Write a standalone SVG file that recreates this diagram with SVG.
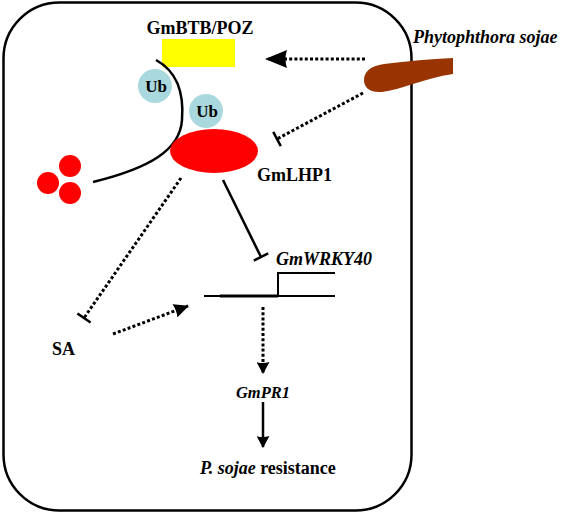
<svg xmlns="http://www.w3.org/2000/svg" width="564" height="517" viewBox="0 0 564 517">
<style>
text{font-family:"Liberation Serif","Times New Roman",serif;font-weight:bold;fill:#000}
.it{font-style:italic}
.dot{fill:none;stroke:#000;stroke-width:3;stroke-dasharray:3 2.2}
.sol{fill:none;stroke:#000;stroke-width:2.5}
.ub{fill:#a9d9de}
</style>
<defs>
<marker id="ahL" markerUnits="userSpaceOnUse" viewBox="0 0 22 18" refX="21" refY="9" markerWidth="22" markerHeight="18" orient="auto"><path d="M0,0 L22,9 L0,18 Q3,9 0,0 Z" fill="#000"/></marker>
<marker id="ahM" markerUnits="userSpaceOnUse" viewBox="0 0 15 14" refX="14" refY="7" markerWidth="15" markerHeight="14" orient="auto"><path d="M0,0 L15,7 L0,14 Q2,7 0,0 Z" fill="#000"/></marker>
<marker id="ahS" markerUnits="userSpaceOnUse" viewBox="0 0 12 13" refX="11" refY="6.5" markerWidth="12" markerHeight="13" orient="auto"><path d="M0,0 L12,6.5 L0,13 Q2,6.5 0,0 Z" fill="#000"/></marker>
<marker id="tee" markerUnits="userSpaceOnUse" viewBox="-2 -9 4 18" refX="0" refY="0" markerWidth="4" markerHeight="18" orient="auto"><line x1="0" y1="-8" x2="0" y2="8" stroke="#000" stroke-width="2.5"/></marker>
</defs>
<g id="cell"><rect x="3.5" y="2.5" width="408" height="508" rx="56" ry="56" fill="none" stroke="#000" stroke-width="2.5"/></g>
<g id="connectors">
<path class="dot" d="M365,59 L266,59" marker-end="url(#ahL)"/>
<path class="dot" d="M363,93 L277,139" marker-end="url(#tee)"/>
<path class="sol" d="M223,180 L261,257" marker-end="url(#tee)"/>
<path class="dot" d="M181,178 L84,318" marker-end="url(#tee)"/>
<path class="dot" d="M113,334 L188,306" marker-end="url(#ahM)"/>
<path class="dot" d="M263,307 L263,373" marker-end="url(#ahS)"/>
<path class="sol" d="M263,402 L263,447" marker-end="url(#ahS)"/>
</g>
<g id="btb"><rect x="162" y="39" width="73" height="28" fill="#ffff00"/><text x="200" y="34" font-size="18" text-anchor="middle">GmBTB/POZ</text></g>
<g id="pathogen"><path d="M453,58 L453,74 C425,78 400,90 382,92 C368,93 364,86 364,80 C364,72 370,66 384,64 C408,61 430,59 453,58 Z" fill="#993300"/><text class="it" x="413" y="43" font-size="18">Phytophthora sojae</text></g>
<g id="chain"><path class="sol" d="M156,60 C178,72 184,95 182,120 C180,150 150,168 93,182"/></g>
<g id="ub1"><circle class="ub" cx="155" cy="86" r="17"/><text x="156" y="92" font-size="17" text-anchor="middle">Ub</text></g>
<g id="ub2"><circle class="ub" cx="206" cy="111" r="17"/><text x="207" y="117" font-size="17" text-anchor="middle">Ub</text></g>
<g id="lhp1"><ellipse cx="214" cy="151" rx="44" ry="22" fill="#ff0000"/><text x="257" y="181" font-size="18">GmLHP1</text></g>
<g id="proteasome"><circle cx="70" cy="166" r="11" fill="#ff0000"/><circle cx="48" cy="183" r="11" fill="#ff0000"/><circle cx="70" cy="193" r="11" fill="#ff0000"/></g>
<g id="wrky40"><text class="it" x="276" y="265" font-size="18">GmWRKY40</text><path d="M204,296 L335,296" stroke="#000" stroke-width="2"/><path d="M220,296 L278,296" stroke="#000" stroke-width="3"/><path d="M278,296 L278,273 L335,273" fill="none" stroke="#000" stroke-width="2"/></g>
<g id="sa"><text x="52" y="355" font-size="18">SA</text></g>
<g id="pr1"><text class="it" x="263" y="398" font-size="16.5" text-anchor="middle">GmPR1</text></g>
<g id="resistance"><text x="200" y="474" font-size="18"><tspan class="it">P. sojae</tspan> resistance</text></g>
</svg>
